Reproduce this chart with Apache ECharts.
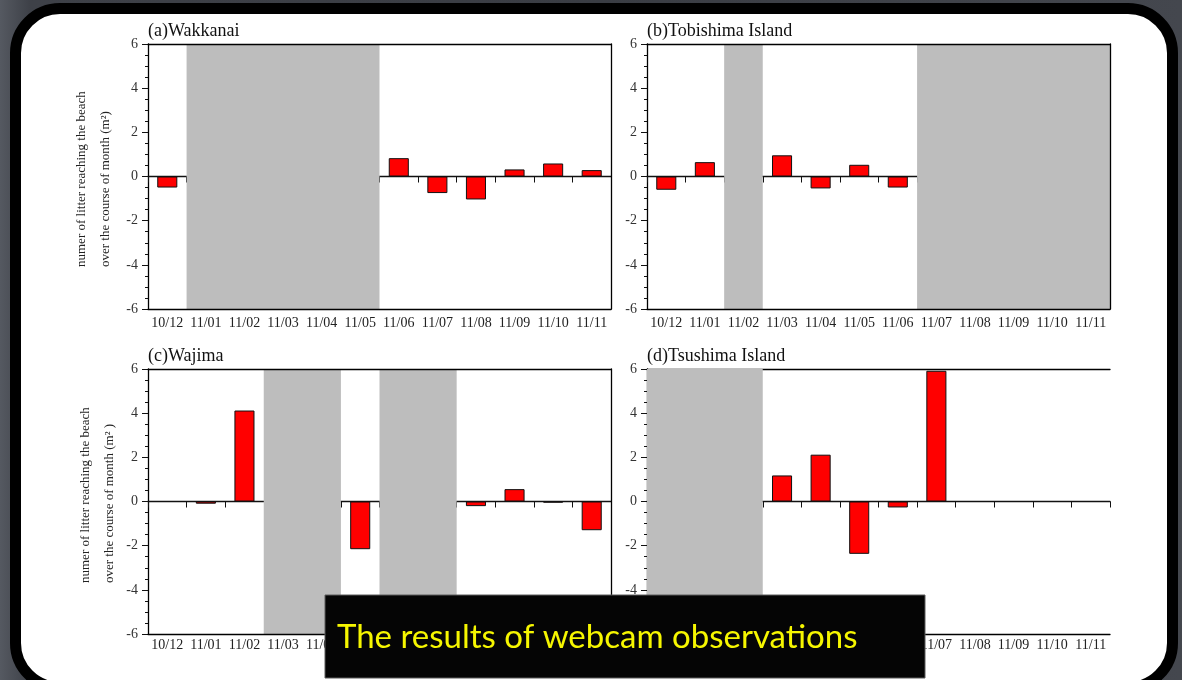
<!DOCTYPE html>
<html lang="en">
<head>
  <meta charset="UTF-8">
  <title>The results of webcam observations</title>
  <script src="https://cdn.jsdelivr.net/npm/echarts@6/dist/echarts.min.js"></script>
  <style>
    body {
      margin: 0;
      width: 1182px;
      height: 680px;
      overflow: hidden;
      position: relative;
      background: linear-gradient(90deg, #555961 0px, #3e4148 30px, #3a3d44 600px, #44474e 1182px);
    }
    /* white slide card with thick black rim */
    .card {
      position: absolute;
      left: 10px;
      top: 3px;
      width: 1146px;
      height: 668px;
      border: 11px solid #000;
      border-radius: 50px;
      background: #fff;
    }
    #main {
      position: absolute;
      left: 0;
      top: 0;
      width: 1182px;
      height: 680px;
    }
  </style>
</head>
<body>
  <div class="card"></div>
  <div id="main"></div>

  <script>
    // months on the x axis
    const dates = ['10/12', '11/01', '11/02', '11/03', '11/04', '11/05', '11/06', '11/07', '11/08', '11/09', '11/10', '11/11'];

    // number of litter reaching the beach (per m2), null = no bar
    const wakkanai  = [-0.5, null, null, null, null, null, 0.83, -0.75, -1.04, 0.32, 0.59, 0.29];
    const tobishima = [-0.6, 0.65, null, 0.96, -0.54, 0.53, -0.5, null, null, null, null, null];
    const wajima    = [null, -0.1, 4.12, null, null, -2.16, null, null, -0.21, 0.56, -0.05, -1.3];
    const tsushima  = [null, null, null, 1.18, 2.12, -2.37, -0.27, 5.92, null, null, null, null];

    // months without camera data (grey bands)
    const gapA = ['11/01', '11/02', '11/03', '11/04', '11/05'];
    const gapB = ['11/02', '11/07', '11/08', '11/09', '11/10', '11/11'];
    const gapC = ['11/03', '11/04', '11/06', '11/07'];
    const gapD = ['10/12', '11/01', '11/02'];

    // y axis range
    const yMin = -6, yMax = 6, yStep = 2;

    const serif = 'Liberation Serif';

    const panels = [
      { title: '(a)Wakkanai', values: wakkanai, gaps: gapA, left: 148, top: 44, labelMargin: 7, frameZ: 3, rightLine: true,
        yName: ['numer of litter reaching the beach', 'over the course of month (m\u00b2)'], nameX: [82, 106], nameY: 267 },
      { title: '(b)Tobishima Island', values: tobishima, gaps: gapB, left: 647, top: 44, labelMargin: 7, frameZ: 3, rightLine: true },
      { title: '(c)Wajima', values: wajima, gaps: gapC, left: 148, top: 369, labelMargin: 4, frameZ: 3, rightLine: true,
        yName: ['numer of litter reaching the beach', 'over the course of month (m\u00b2 )'], nameX: [86, 110], nameY: 583 },
      { title: '(d)Tsushima Island', values: tsushima, gaps: gapD, left: 647, top: 369, labelMargin: 4, frameZ: 0, rightLine: false }
    ];

    // group consecutive gap months into [firstIndex, lastIndex] runs
    function gapRuns(gaps) {
      const runs = [];
      dates.forEach(function (d, k) {
        if (gaps.indexOf(d) < 0) return;
        const last = runs[runs.length - 1];
        if (last && last[1] === k - 1) last[1] = k;
        else runs.push([k, k]);
      });
      return runs;
    }

    const option = {
      animation: false,
      title: [],
      grid: [],
      xAxis: [],
      yAxis: [],
      series: [],
      graphic: []
    };

    const frameLine = { color: '#000', width: 1.3 };

    panels.forEach(function (p, i) {
      option.title.push({
        text: p.title,
        left: p.left,
        top: p.top - 22,
        padding: 0,
        textStyle: { fontFamily: serif, fontSize: 18, fontWeight: 'normal', color: '#111' }
      });

      option.grid.push({ left: p.left, top: p.top, width: 463, height: 265 });

      const xi = option.xAxis.length;
      const yi = option.yAxis.length;

      // bottom frame + month labels
      option.xAxis.push({
        gridIndex: i, type: 'category', data: dates, position: 'bottom', z: 3,
        axisLine: { onZero: false, lineStyle: frameLine },
        axisTick: { show: false },
        axisLabel: { interval: 0, margin: p.labelMargin, fontFamily: serif, fontSize: 14, color: '#222' }
      });
      // zero line with ticks between months
      option.xAxis.push({
        gridIndex: i, type: 'category', data: dates, position: 'bottom',
        axisLine: { onZero: true, lineStyle: { color: '#111', width: 1.3 } },
        axisTick: { show: true, interval: 0, length: 6, lineStyle: { color: '#111', width: 1 } },
        axisLabel: { show: false }
      });
      // top frame
      option.xAxis.push({
        gridIndex: i, type: 'category', data: dates, position: 'top', z: p.frameZ,
        axisLine: { onZero: false, lineStyle: frameLine },
        axisTick: { show: false },
        axisLabel: { show: false }
      });
      // hidden numeric axis (band edges at k +- 0.5) for the grey bands
      option.xAxis.push({
        gridIndex: i, type: 'value', min: -0.5, max: dates.length - 0.5, show: false,
        axisLine: { onZero: false }, splitLine: { show: false }
      });

      option.yAxis.push({
        gridIndex: i, type: 'value', min: yMin, max: yMax, interval: yStep,
        axisLine: { show: true, onZero: false, lineStyle: frameLine },
        axisTick: { show: true, length: 6, lineStyle: { color: '#111' } },
        minorTick: { show: true, splitNumber: 4, length: 3, lineStyle: { color: '#111' } },
        splitLine: { show: false },
        axisLabel: { margin: 10, fontFamily: serif, fontSize: 14, color: '#333' }
      });
      // right frame
      option.yAxis.push({
        gridIndex: i, type: 'value', min: yMin, max: yMax, interval: yStep, position: 'right', z: 3,
        axisLine: { show: p.rightLine, onZero: false, lineStyle: frameLine },
        axisTick: { show: false },
        axisLabel: { show: false },
        splitLine: { show: false }
      });

      // grey bands
      option.series.push({
        type: 'line', xAxisIndex: xi + 3, yAxisIndex: yi, data: [], silent: true, z: 1,
        markArea: {
          silent: true,
          itemStyle: { color: '#bdbdbd' },
          data: gapRuns(p.gaps).map(function (r) {
            return [{ xAxis: r[0] - 0.5, yAxis: yMin }, { xAxis: r[1] + 0.5, yAxis: yMax }];
          })
        }
      });

      // litter bars
      option.series.push({
        name: p.title, type: 'bar', xAxisIndex: xi, yAxisIndex: yi, barWidth: '52%', z: 2,
        itemStyle: { color: '#ff0000', borderColor: '#111', borderWidth: 1 },
        data: p.values
      });

      // two-line y axis title
      if (p.yName) {
        p.yName.forEach(function (line, k) {
          option.graphic.push({
            type: 'text', x: p.nameX[k], y: p.nameY, rotation: Math.PI / 2, z: 50,
            style: { text: line, fontFamily: serif, fontSize: 13, fill: '#222', align: 'left', verticalAlign: 'middle' }
          });
        });
      }
    });

    // caption box
    option.graphic.push({
      type: 'rect', z: 100,
      shape: { x: 325, y: 595, width: 600, height: 83 },
      style: { fill: '#050505', stroke: '#5c5c5c', lineWidth: 1 }
    });
    option.graphic.push({
      type: 'text', z: 101, x: 337, y: 637,
      style: { text: 'The results of webcam observations', fontFamily: 'Lato', fontSize: 33, fill: '#f6f600', align: 'left', verticalAlign: 'middle' }
    });

    const myChart = echarts.init(document.getElementById('main'));
    myChart.setOption(option);
  </script>
</body>
</html>
